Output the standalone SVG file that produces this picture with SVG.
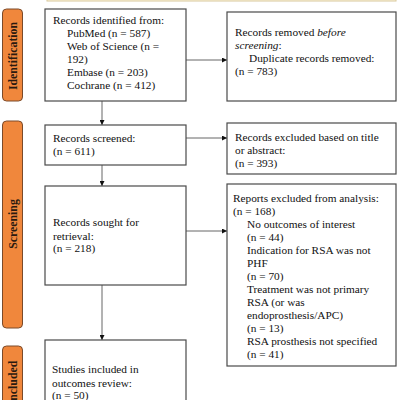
<svg xmlns="http://www.w3.org/2000/svg" width="400" height="400" viewBox="0 0 400 400">
<style>
.box{fill:#fff;stroke:#4a4a4a;stroke-width:1.2}
.phase{fill:#f0873c;stroke:#7a4a2a;stroke-width:1}
.pt{font-weight:bold;font-size:11.8px;fill:#2a1a10;text-anchor:middle}
.t{font-size:11.3px;fill:#111}
.ln{stroke:#666;stroke-width:1;fill:none}
</style>
<defs>
<marker id="ah" viewBox="0 0 6 6" refX="6" refY="3" markerWidth="5" markerHeight="5" orient="auto" markerUnits="userSpaceOnUse">
<path d="M0,0 L6,3 L0,6 z" fill="#111"/>
</marker>
</defs>
<g font-family="'Liberation Serif', 'Times New Roman', serif">
<rect x="47" y="-30" width="349" height="31" fill="#fdf6de" stroke="#d8c89c" stroke-width="1"/>
<g id="phase-identification"><rect class="phase" x="2.5" y="9" width="20" height="92" rx="4"/><text class="pt" transform="translate(16.5,56) rotate(-90)">Identification</text></g>
<g id="phase-screening"><rect class="phase" x="2.5" y="121" width="20" height="207" rx="4"/><text class="pt" transform="translate(16.5,224) rotate(-90)">Screening</text></g>
<g id="phase-included"><rect class="phase" x="2.5" y="346" width="20" height="80" rx="4"/><text class="pt" transform="translate(16.5,383) rotate(-90)">Included</text></g>
<g id="connectors">
<line class="ln" x1="186" y1="60" x2="227" y2="60" marker-end="url(#ah)"/>
<line class="ln" x1="102" y1="101" x2="102" y2="125" marker-end="url(#ah)"/>
<line class="ln" x1="186" y1="138" x2="227" y2="138" marker-end="url(#ah)"/>
<line class="ln" x1="102" y1="165" x2="102" y2="186" marker-end="url(#ah)"/>
<line class="ln" x1="186" y1="231" x2="227" y2="231" marker-end="url(#ah)"/>
<line class="ln" x1="102" y1="285" x2="102" y2="340" marker-end="url(#ah)"/>
</g>
<g id="identified"><rect class="box" x="45" y="9" width="141" height="92"/>
<text class="t" x="53" y="24">Records identified from:</text>
<text class="t" x="67" y="37">PubMed (n = 587)</text>
<text class="t" x="67" y="50">Web of Science (n =</text>
<text class="t" x="67" y="63">192)</text>
<text class="t" x="67" y="76">Embase (n = 203)</text>
<text class="t" x="67" y="88.5">Cochrane (n = 412)</text></g>
<g id="removed"><rect class="box" x="227" y="12" width="169" height="89"/>
<text class="t" x="235" y="36">Records removed <tspan font-style="italic">before</tspan></text>
<text class="t" x="235" y="49"><tspan font-style="italic">screening</tspan>:</text>
<text class="t" x="249" y="62">Duplicate records removed:</text>
<text class="t" x="235" y="75">(n = 783)</text></g>
<g id="screened"><rect class="box" x="45" y="125" width="141" height="40"/>
<text class="t" x="53" y="142">Records screened:</text>
<text class="t" x="53" y="155">(n = 611)</text></g>
<g id="excluded-title"><rect class="box" x="227" y="123" width="169" height="51"/>
<text class="t" x="235" y="141">Records excluded based on title</text>
<text class="t" x="235" y="154">or abstract:</text>
<text class="t" x="235" y="167">(n = 393)</text></g>
<g id="sought"><rect class="box" x="45" y="186" width="141" height="99"/>
<text class="t" x="53" y="226">Records sought for</text>
<text class="t" x="53" y="239.5">retrieval:</text>
<text class="t" x="53" y="252">(n = 218)</text></g>
<g id="reports-excluded"><rect class="box" x="227" y="184" width="169" height="182"/>
<text class="t" x="233" y="202">Reports excluded from analysis:</text>
<text class="t" x="233" y="215">(n = 168)</text>
<text class="t" x="247" y="228">No outcomes of interest</text>
<text class="t" x="247" y="241">(n = 44)</text>
<text class="t" x="247" y="254">Indication for RSA was not</text>
<text class="t" x="247" y="267">PHF</text>
<text class="t" x="247" y="280">(n = 70)</text>
<text class="t" x="247" y="293">Treatment was not primary</text>
<text class="t" x="247" y="306">RSA (or was</text>
<text class="t" x="247" y="319">endoprosthesis/APC)</text>
<text class="t" x="247" y="332">(n = 13)</text>
<text class="t" x="247" y="345">RSA prosthesis not specified</text>
<text class="t" x="247" y="358">(n = 41)</text></g>
<g id="included"><rect class="box" x="45" y="340" width="141" height="80"/>
<text class="t" x="52" y="373">Studies included in</text>
<text class="t" x="52" y="386.5">outcomes review:</text>
<text class="t" x="52" y="399">(n = 50)</text></g>
</g>
</svg>
